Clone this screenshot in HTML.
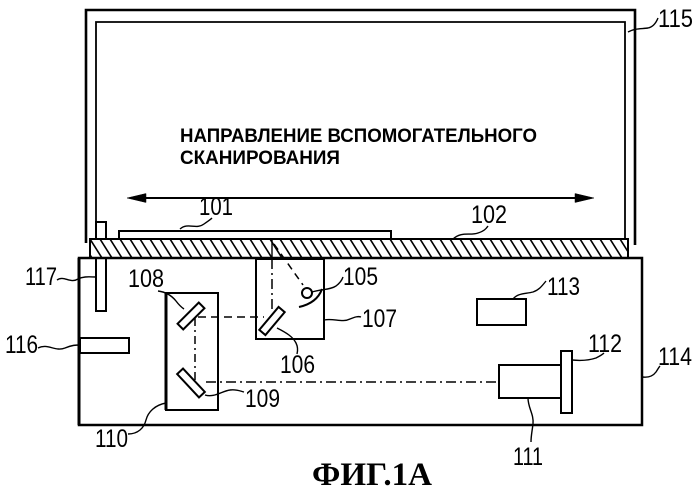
<!DOCTYPE html>
<html><head><meta charset="utf-8"><style>
html,body{margin:0;padding:0;background:#fff;}
svg{display:block;}
text{font-family:"Liberation Sans",sans-serif;fill:#000;}
.lb{font-size:25px;}
</style></head><body>
<svg width="699" height="491" viewBox="0 0 699 491" xmlns="http://www.w3.org/2000/svg">
<defs>
<clipPath id="gc"><rect x="91" y="240" width="536" height="17"/></clipPath>
</defs>
<rect width="699" height="491" fill="#fff"/>
<g fill="none" stroke="#000" stroke-width="2">
<!-- cover 115 -->
<path d="M86,243 L86,10 L635,10 L635,245" stroke-width="2.6"/>
<path d="M96,222 L96,22 L625,22 L625,239" stroke-width="1.8"/>
<!-- post 117 -->
<rect x="96" y="222" width="10" height="89" fill="#fff"/>
<!-- document 101 -->
<rect x="119" y="231" width="272" height="8" fill="#fff" stroke-width="2"/>
<!-- glass 102 -->
<rect x="90" y="239" width="538" height="19" fill="#fff" stroke-width="2"/>
</g>
<g clip-path="url(#gc)" stroke="#000" stroke-width="1.6">
<line x1="80" y1="239" x2="92" y2="258"/><line x1="90" y1="239" x2="102" y2="258"/><line x1="100" y1="239" x2="112" y2="258"/><line x1="110" y1="239" x2="122" y2="258"/><line x1="120" y1="239" x2="132" y2="258"/><line x1="130" y1="239" x2="142" y2="258"/><line x1="140" y1="239" x2="152" y2="258"/><line x1="150" y1="239" x2="162" y2="258"/><line x1="160" y1="239" x2="172" y2="258"/><line x1="170" y1="239" x2="182" y2="258"/><line x1="180" y1="239" x2="192" y2="258"/><line x1="190" y1="239" x2="202" y2="258"/><line x1="200" y1="239" x2="212" y2="258"/><line x1="210" y1="239" x2="222" y2="258"/><line x1="220" y1="239" x2="232" y2="258"/><line x1="230" y1="239" x2="242" y2="258"/><line x1="240" y1="239" x2="252" y2="258"/><line x1="250" y1="239" x2="262" y2="258"/><line x1="260" y1="239" x2="272" y2="258"/><line x1="270" y1="239" x2="282" y2="258"/><line x1="280" y1="239" x2="292" y2="258"/><line x1="290" y1="239" x2="302" y2="258"/><line x1="300" y1="239" x2="312" y2="258"/><line x1="310" y1="239" x2="322" y2="258"/><line x1="320" y1="239" x2="332" y2="258"/><line x1="330" y1="239" x2="342" y2="258"/><line x1="340" y1="239" x2="352" y2="258"/><line x1="350" y1="239" x2="362" y2="258"/><line x1="360" y1="239" x2="372" y2="258"/><line x1="370" y1="239" x2="382" y2="258"/><line x1="380" y1="239" x2="392" y2="258"/><line x1="390" y1="239" x2="402" y2="258"/><line x1="400" y1="239" x2="412" y2="258"/><line x1="410" y1="239" x2="422" y2="258"/><line x1="420" y1="239" x2="432" y2="258"/><line x1="430" y1="239" x2="442" y2="258"/><line x1="440" y1="239" x2="452" y2="258"/><line x1="450" y1="239" x2="462" y2="258"/><line x1="460" y1="239" x2="472" y2="258"/><line x1="470" y1="239" x2="482" y2="258"/><line x1="480" y1="239" x2="492" y2="258"/><line x1="490" y1="239" x2="502" y2="258"/><line x1="500" y1="239" x2="512" y2="258"/><line x1="510" y1="239" x2="522" y2="258"/><line x1="520" y1="239" x2="532" y2="258"/><line x1="530" y1="239" x2="542" y2="258"/><line x1="540" y1="239" x2="552" y2="258"/><line x1="550" y1="239" x2="562" y2="258"/><line x1="560" y1="239" x2="572" y2="258"/><line x1="570" y1="239" x2="582" y2="258"/><line x1="580" y1="239" x2="592" y2="258"/><line x1="590" y1="239" x2="602" y2="258"/><line x1="600" y1="239" x2="612" y2="258"/><line x1="610" y1="239" x2="622" y2="258"/><line x1="620" y1="239" x2="632" y2="258"/>
<line x1="272" y1="239" x2="272" y2="258" stroke-width="1.4"/>
</g>
<g fill="none" stroke="#000" stroke-width="2">
<!-- body 114 -->
<rect x="79" y="258" width="563" height="167" stroke-width="2.5"/>
<line x1="79" y1="258" x2="79" y2="425" stroke-width="3"/>
<!-- bar 116 -->
<rect x="80" y="338" width="49" height="15"/>
<!-- box 110 -->
<rect x="166" y="293" width="52" height="117"/>
<line x1="166" y1="293" x2="166" y2="410" stroke-width="3"/>
<!-- box 107 -->
<rect x="256" y="259" width="68" height="80"/>
<!-- box 113 -->
<rect x="477" y="299" width="49" height="26"/>
<!-- lens 111 -->
<rect x="499" y="365" width="63" height="33"/>
<!-- sensor 112 -->
<rect x="561" y="351" width="11" height="62" fill="#fff"/>
<!-- mirrors -->
<rect x="-15" y="-4" width="30" height="8" transform="translate(191,316) rotate(-45)" fill="#fff"/>
<rect x="-16" y="-4" width="32" height="8" transform="translate(191,383) rotate(47)" fill="#fff"/>
<rect x="-15" y="-4" width="30" height="8" transform="translate(272,321) rotate(-50)" fill="#fff"/>
<!-- lamp 105 -->
<circle cx="307" cy="293" r="5"/>
<path d="M299,307 Q317,303 322,289"/>
</g>
<!-- optical paths -->
<g fill="none" stroke="#000" stroke-width="1.5">
<line x1="198" y1="317" x2="264" y2="317" stroke-dasharray="8,5"/>
<line x1="195" y1="318" x2="195" y2="380" stroke-dasharray="8,4,2,4"/>
<line x1="206" y1="382" x2="498" y2="382" stroke-dasharray="10,4,2,4"/>
<line x1="272" y1="259" x2="272" y2="311" stroke-dasharray="10,4,2,4"/>
<line x1="274" y1="244" x2="303" y2="285" stroke-dasharray="7,5"/>
</g>
<!-- arrow -->
<g stroke="#000" stroke-width="2" fill="#000">
<line x1="138" y1="198" x2="583" y2="198"/>
<polygon points="127,198 146,193.5 146,202.5" stroke-width="0.5"/>
<polygon points="594,198 575,193.5 575,202.5" stroke-width="0.5"/>
</g>
<!-- leaders -->
<g fill="none" stroke="#000" stroke-width="1.4">
<path d="M180,229 C188,222 196,230 204,224 C208,221 210,220 212,218"/>
<path d="M453,239 C462,231 470,236 478,233 C484,231 486,229 488,226"/>
<path d="M312,292 C322,289 330,290 336,286 C340,283 342,280 343,277"/>
<path d="M324,320 C334,318 342,323 350,319 C355,317 358,316 361,317"/>
<path d="M277,328 C287,333 293,337 296,343 C298,347 298,350 297,354"/>
<path d="M158,291 C166,292 172,296 176,301 C179,305 181,307 184,309"/>
<path d="M205,395 C214,398 222,391 230,390 C236,389 240,391 244,392"/>
<path d="M128,434 C138,434 144,428 146,420 C148,412 155,405 166,403"/>
<path d="M528,398 C528,408 534,414 533,424 C532,432 531,436 531,442"/>
<path d="M572,360 C582,361 590,360 596,358 C600,356 602,355 604,353"/>
<path d="M513,299 C518,293 525,294 533,292 C539,290 542,286 546,281"/>
<path d="M642,377 C649,378 653,376 656,372 C658,369 659,367 660,366"/>
<path d="M628,32 C635,28 642,29 648,28 C653,27 656,23 658,18"/>
<path d="M38,348 C48,343 55,352 65,348 C72,345 76,345 80,345"/>
<path d="M57,280 C64,275 70,284 78,279 C84,276 90,277 96,277"/>
</g>
<!-- labels -->
<g class="lb">
<text x="199" y="215" textLength="34" lengthAdjust="spacingAndGlyphs">101</text>
<text x="471" y="223" textLength="36" lengthAdjust="spacingAndGlyphs">102</text>
<text x="343" y="285" textLength="35" lengthAdjust="spacingAndGlyphs">105</text>
<text x="362" y="327" textLength="35" lengthAdjust="spacingAndGlyphs">107</text>
<text x="280" y="373" textLength="35" lengthAdjust="spacingAndGlyphs">106</text>
<text x="128" y="287" textLength="36" lengthAdjust="spacingAndGlyphs">108</text>
<text x="245" y="407" textLength="35" lengthAdjust="spacingAndGlyphs">109</text>
<text x="95" y="447" textLength="33" lengthAdjust="spacingAndGlyphs">110</text>
<text x="513" y="465" textLength="30" lengthAdjust="spacingAndGlyphs">111</text>
<text x="588" y="352" textLength="34" lengthAdjust="spacingAndGlyphs">112</text>
<text x="547" y="295" textLength="33" lengthAdjust="spacingAndGlyphs">113</text>
<text x="658" y="365" textLength="34" lengthAdjust="spacingAndGlyphs">114</text>
<text x="658" y="27" textLength="35" lengthAdjust="spacingAndGlyphs">115</text>
<text x="5" y="353" textLength="33" lengthAdjust="spacingAndGlyphs">116</text>
<text x="25" y="285" textLength="32" lengthAdjust="spacingAndGlyphs">117</text>
</g>
<text x="180" y="142" font-size="19" font-weight="bold" textLength="357" lengthAdjust="spacingAndGlyphs">НАПРАВЛЕНИЕ ВСПОМОГАТЕЛЬНОГО</text>
<text x="180" y="164" font-size="19" font-weight="bold" textLength="160" lengthAdjust="spacingAndGlyphs">СКАНИРОВАНИЯ</text>
<text x="312" y="485" font-size="33" font-weight="bold" style="font-family:'Liberation Serif',serif" textLength="120" lengthAdjust="spacingAndGlyphs">ФИГ.1А</text>
</svg>
</body></html>
